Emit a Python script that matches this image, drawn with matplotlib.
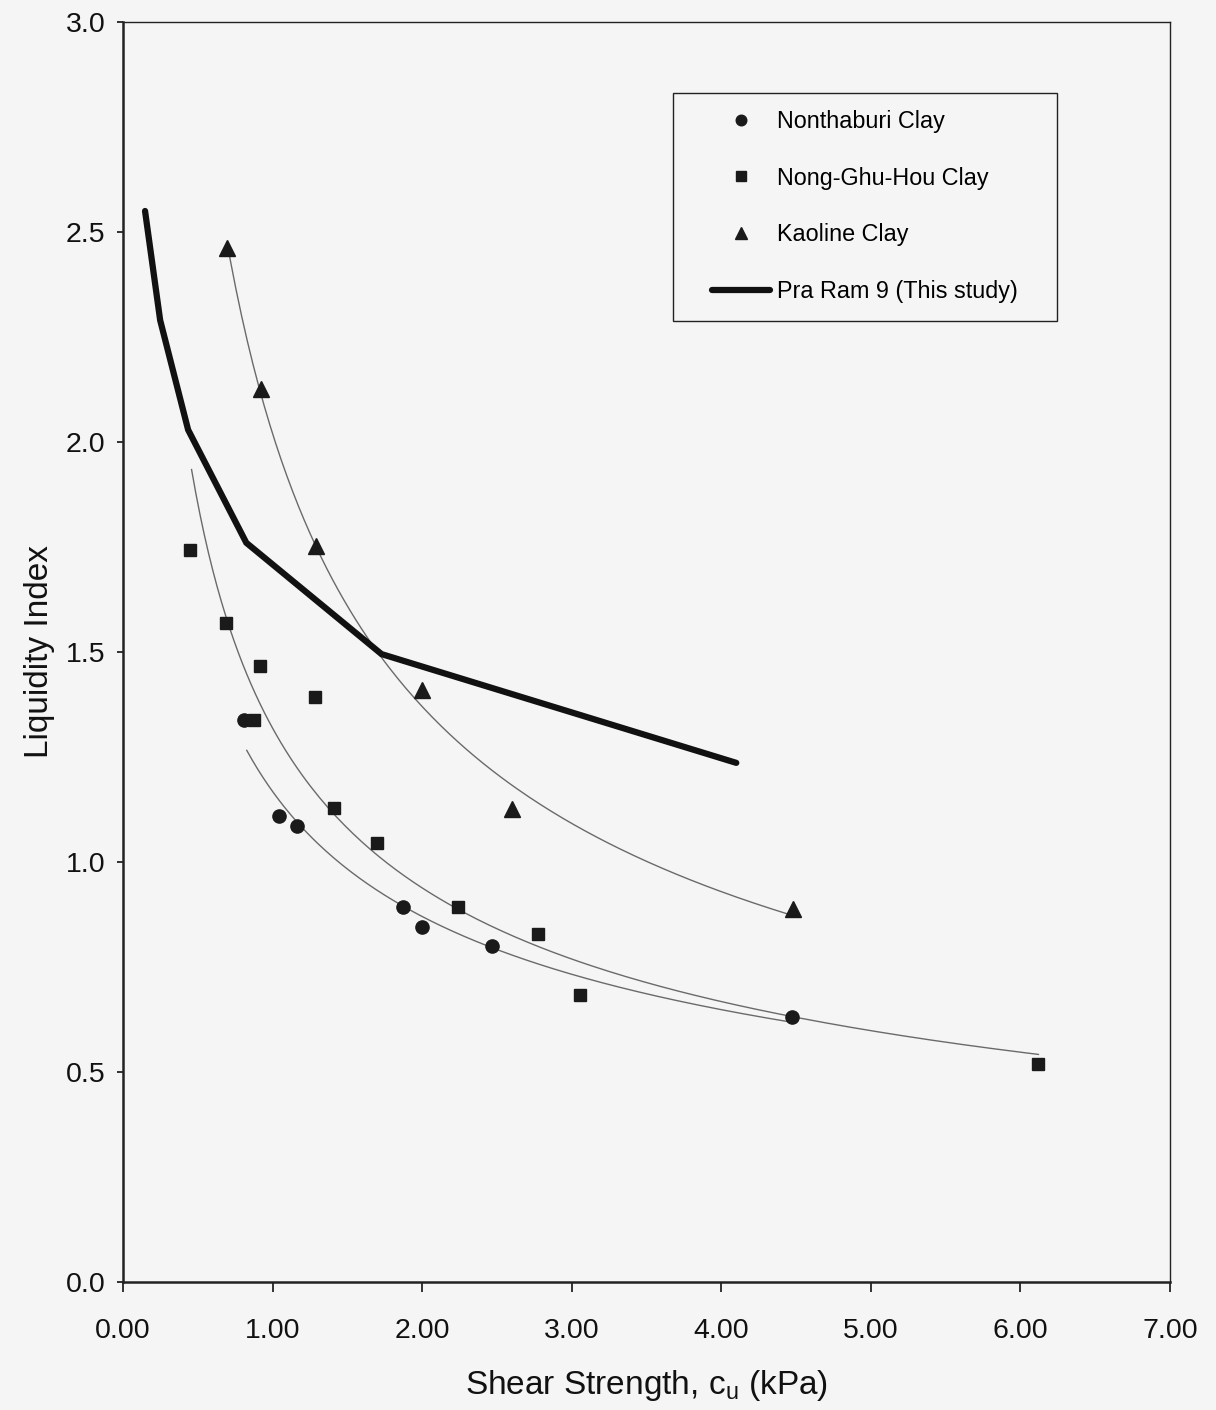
import numpy as np
import matplotlib
matplotlib.use("Agg")
import matplotlib.pyplot as plt
from matplotlib.patches import Rectangle

plt.rcParams['font.family'] = ['Liberation Sans', 'DejaVu Sans']

# ---------------- data ----------------
nonthaburi_x = [0.81, 1.045, 1.165, 1.875, 1.996, 2.465, 4.47]
nonthaburi_y = [1.338, 1.11, 1.086, 0.893, 0.845, 0.80, 0.631]

nong_x = [0.449, 0.69, 0.918, 0.877, 1.286, 1.407, 1.695, 2.237, 2.773, 3.054, 6.12]
nong_y = [1.743, 1.569, 1.467, 1.338, 1.393, 1.129, 1.045, 0.893, 0.829, 0.683, 0.519]

kaoline_x = [0.697, 0.924, 1.29, 1.996, 2.60, 4.48]
kaoline_y = [2.462, 2.126, 1.752, 1.41, 1.126, 0.888]

praram_x = [0.147, 0.248, 0.435, 0.824, 1.728, 4.10]
praram_y = [2.55, 2.29, 2.029, 1.76, 1.495, 1.236]

# trend-line start points per series
trend_start = {'non': 0.827, 'nong': 0.458, 'kao': 0.697}

x_ticks = [0, 1, 2, 3, 4, 5, 6, 7]
y_ticks = [0.0, 0.5, 1.0, 1.5, 2.0, 2.5, 3.0]

bg = '#f5f5f5'
fig = plt.figure(figsize=(12.16, 14.10), dpi=100, facecolor=bg)
ax = fig.add_axes([0.1012, 0.0908, 0.8610, 0.8936], facecolor=bg)


def power_trend(xs, ys, x0):
    b, a = np.polyfit(np.log(xs), np.log(ys), 1)
    xx = np.linspace(x0, max(xs), 200)
    return xx, np.exp(a) * xx ** b


tcol = '#6a6a6a'
for xs, ys, key in [(nonthaburi_x, nonthaburi_y, 'non'),
                    (nong_x, nong_y, 'nong'),
                    (kaoline_x, kaoline_y, 'kao')]:
    xx, yy = power_trend(np.array(xs), np.array(ys), trend_start[key])
    ax.plot(xx, yy, color=tcol, lw=1.0, zorder=2)

ax.plot(nonthaburi_x, nonthaburi_y, 'o', ms=9.5, color='#1a1a1a', ls='none',
        label='Nonthaburi Clay', zorder=4)
ax.plot(nong_x, nong_y, 's', ms=8.5, color='#1a1a1a', ls='none',
        label='Nong-Ghu-Hou Clay', zorder=4)
ax.plot(kaoline_x, kaoline_y, '^', ms=11, color='#1a1a1a', ls='none',
        label='Kaoline Clay', zorder=4)
ax.plot(praram_x, praram_y, '-', lw=4.5, color='#111111',
        solid_capstyle='round', solid_joinstyle='miter',
        label='Pra Ram 9 (This study)', zorder=3)

ax.set_xlim(0, 7)
ax.set_ylim(0, 3)
ax.set_xticks(x_ticks)
ax.set_xticklabels([f'{v:.2f}' for v in x_ticks])
ax.set_yticks(y_ticks)
ax.set_yticklabels([f'{v:.1f}' for v in y_ticks])
ax.tick_params(axis='both', direction='out', width=1.2,
               labelsize=20.5, colors='#111111')
ax.tick_params(axis='x', length=7, pad=19)
ax.tick_params(axis='y', length=4.5, pad=8)
for s in ax.spines.values():
    s.set_color('#222222')
    s.set_linewidth(1.0)
ax.spines['left'].set_linewidth(1.8)
ax.spines['bottom'].set_linewidth(1.8)

ax.set_xlabel('Shear Strength, c$_\\mathregular{u}$ (kPa)', fontsize=24,
              labelpad=17, color='#111111')
ax.set_ylabel('Liquidity Index', fontsize=24, labelpad=8, color='#111111')

# legend box
box = (0.525, 0.763, 0.367, 0.181)
ax.add_patch(Rectangle((box[0], box[1]), box[2], box[3], transform=ax.transAxes,
                       facecolor=bg, edgecolor='#222222', lw=1.0, zorder=5))
leg = ax.legend(loc='center', bbox_to_anchor=box, frameon=False,
                fontsize=16.8, numpoints=1, handlelength=2.5,
                handletextpad=0.3, labelspacing=1.45, markerscale=0.8)
leg.set_zorder(6)

fig.savefig('out.png', dpi=100, facecolor=bg)
